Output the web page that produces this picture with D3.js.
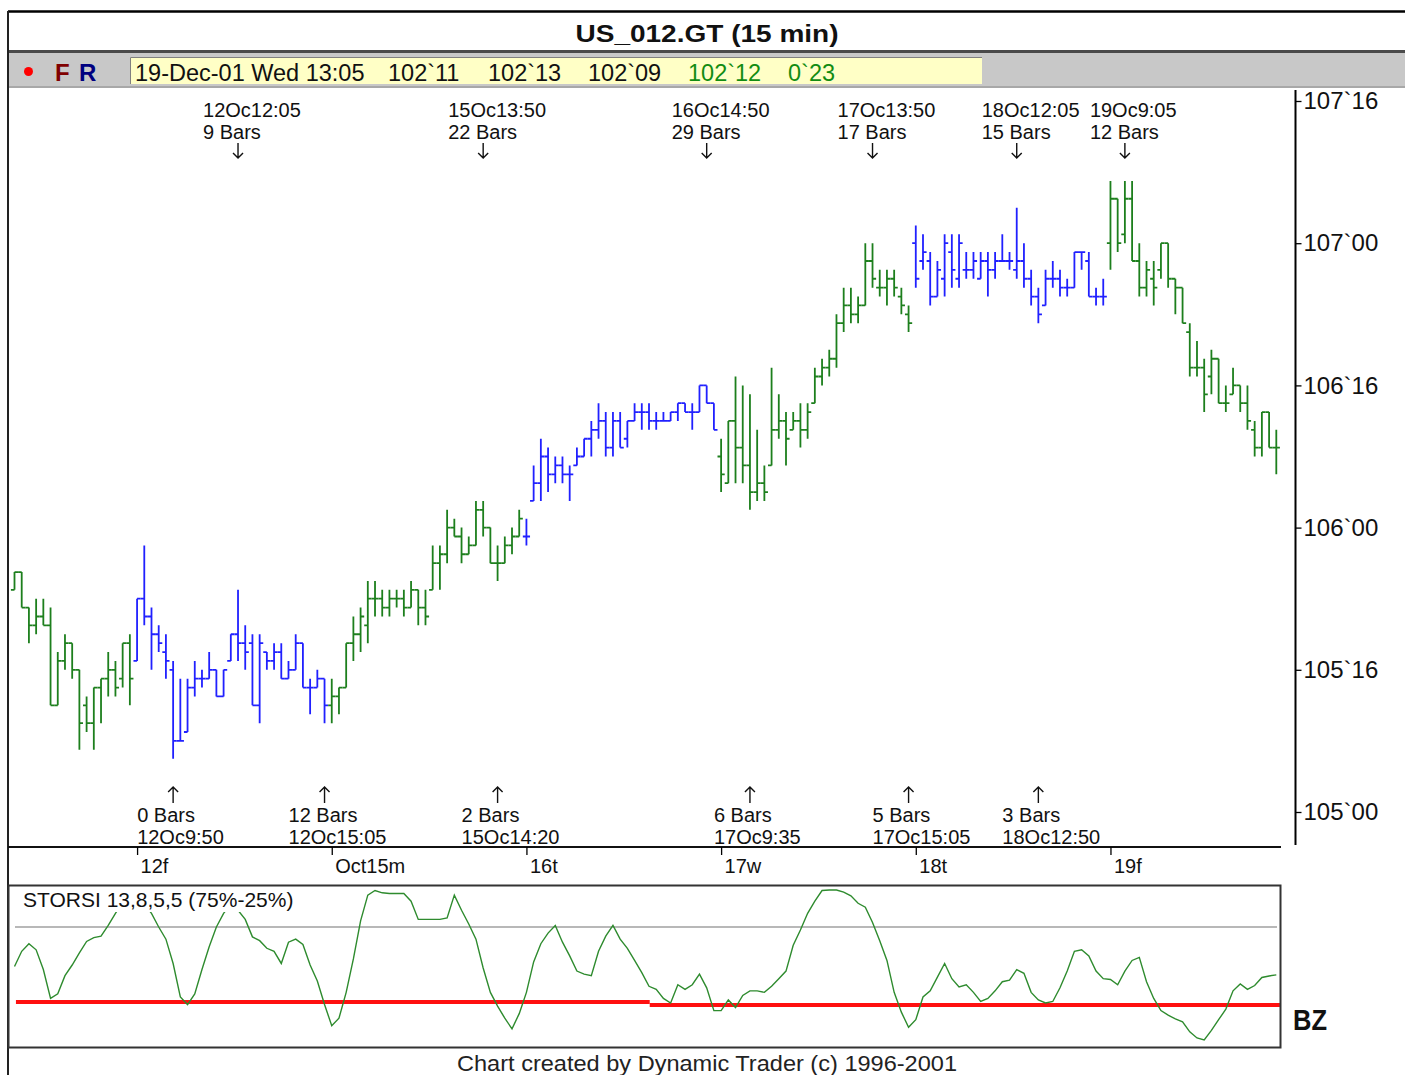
<!DOCTYPE html>
<html><head><meta charset="utf-8">
<script src="https://cdn.jsdelivr.net/npm/d3@7"></script>
<style>
html,body{margin:0;padding:0;background:#fff;}
svg{display:block;}
text{font-family:"Liberation Sans",Arial,sans-serif;}
</style></head><body>
<svg id="c" width="1405" height="1075"></svg>
<script>
// ---------- DATA (prices in 32nds above 105`00) ----------
const TICK_BASE = 105;
const barOpen = [
 25,27,23,21,22,21,12,17,19,16,12,10,14,15,16,15,19,
 17,24,22,20,18,16,8,9,14,15,15,16,13,17,20,19,19,12,18,17,18,15,16,19,14,14,15,
 12,13,14,19,20,21,24,24,23,24,24,23,25,23,25,28,29,32,31,29,30,34,32,28,28,30,31,
 31,35,37,40,38,39,38,39,40,42,43,44,41,44,42,44,45,45,44,44,44,45,46,45,45,48,46,
 40,37,44,41,39,36,37,39,43,44,43,44,43,46,49,50,51,55,57,56,57,62,59,59,60,58,56,
 64,62,62,58,60,63,60,61,61,60,62,61,62,62,61,62,60,58,57,60,60,59,59,63,62,58,58,
 64,69,65,69,62,59,60,61,64,60,59,54,50,50,49,51,46,47,48,46,43,41,45,41];
const barHigh = [
 27,27,23,24,24,23,18,20,19,16,13,14,15,18,17,19,20,
 24,30,23,21,20,17,15,15,17,16,18,16,16,20,25,21,20,20,18,19,19,17,20,19,15,16,15,
 15,14,19,22,23,26,26,25,25,25,25,26,25,25,30,30,34,33,32,31,35,35,32,30,31,32,34,
 33,39,42,41,40,40,39,41,42,44,46,45,45,45,44,46,46,46,45,45,45,46,46,46,48,48,46,
 42,44,49,48,47,43,39,50,47,45,45,46,46,50,51,52,56,59,59,58,64,64,61,61,61,59,57,
 66,65,63,62,65,65,65,63,63,63,63,63,65,63,68,64,61,59,61,62,61,60,63,63,63,59,60,
 71,69,71,71,64,62,62,64,64,60,59,55,53,51,52,51,48,50,48,48,44,45,45,43];
const barLow = [
 25,23,19,20,21,12,12,16,15,7,9,7,10,13,13,14,12,
 17,21,16,18,15,6,8,9,13,14,15,13,13,17,17,16,12,10,16,16,15,15,16,14,11,14,10,
 10,11,14,17,18,19,22,22,22,23,22,23,21,21,25,25,28,31,28,29,30,31,28,26,28,29,31,
 30,35,35,36,37,37,35,39,40,40,42,40,40,41,41,44,43,43,43,44,44,44,45,43,45,46,43,
 36,37,37,37,34,35,35,39,42,39,43,41,42,46,48,49,50,54,55,55,57,59,58,57,58,56,54,
 59,61,57,58,58,59,59,60,60,60,58,60,62,61,60,59,57,55,57,59,58,58,59,61,58,57,57,
 61,63,64,62,58,58,57,60,59,56,55,49,49,45,47,46,45,47,45,43,40,40,41,38];
const barClose = [
 27,23,21,22,21,12,17,19,16,10,10,14,15,16,14,19,15,
 24,22,20,19,17,8,8,14,15,15,16,13,16,20,19,18,12,19,17,18,15,16,19,14,14,15,12,
 13,14,19,20,22,24,24,23,24,24,23,25,23,22,28,29,32,31,29,30,34,32,28,28,30,31,33,
 31,37,40,38,39,38,38,40,42,43,44,41,44,41,44,45,45,44,44,44,45,46,45,45,48,46,43,
 38,44,41,39,36,37,36,43,44,42,44,43,45,49,50,51,55,57,56,57,62,60,59,60,59,57,55,
 60,63,58,61,64,61,64,61,62,62,61,62,62,62,62,60,58,56,60,60,59,59,63,63,58,58,58,
 69,64,69,62,59,61,59,64,60,59,55,50,50,47,51,46,46,48,46,44,41,45,41,41];
const storsi = [
 49,59,64,60,47,28,31,43,50,58,65.5,68,69,76,84,91,95,
 95,90,84,75,67,51,29,24,31,47,62,75,84,90,86,80,68.5,66,61,59,51,65,67,63.5,50,39.5,24,
 10,15,32,54,79,96,99,97.5,97,97,97,92,80,80,80,80,81,96,86,77,67,48,32,23,15,8,18,
 32,52,64,71,76,65,56,46,44,43,59,69,76,67,61,53,45,36,34,28,25,37,34,37,44,35,20,
 20,27,22,30,33,33,32,36,41,46,63,73,84,92,99,99.3,99.3,98,95.5,90.6,88,78,66,53,32,19,9,
 14,29,33,42,51,41,35.5,37,32,26,28,33,39,40,47,44.5,32,27,25,26,35,46,59,60,56,46,41,
 40.5,37,46,53,55,39,28,20,17,14.5,12.6,6,2,0.7,7,14,21,33,37.5,34,36.5,41.8,42.8,43.5];
const sessionStarts = [0,17,44,71,98,125,152];          // Oct 11,12,15,16,17,18,19
const dayTickIndex  = [17,44,71,98,125,152];
const dayTickLabels = ["12f","Oct15m","16t","17w","18t","19f"];
const priceTicks    = [80,64,48,32,16,0];
const highMarks = [
 {i:31,time:"12Oc12:05",bars:"9 Bars"},{i:65,time:"15Oc13:50",bars:"22 Bars"},
 {i:96,time:"16Oc14:50",bars:"29 Bars"},{i:119,time:"17Oc13:50",bars:"17 Bars"},
 {i:139,time:"18Oc12:05",bars:"15 Bars"},{i:154,time:"19Oc9:05",bars:"12 Bars"}];
const lowMarks = [
 {i:22,time:"12Oc9:50",bars:"0 Bars"},{i:43,time:"12Oc15:05",bars:"12 Bars"},
 {i:67,time:"15Oc14:20",bars:"2 Bars"},{i:102,time:"17Oc9:35",bars:"6 Bars"},
 {i:124,time:"17Oc15:05",bars:"5 Bars"},{i:142,time:"18Oc12:50",bars:"3 Bars"}];
const bzLevels = [{from:0.2,to:88.1,value:25.7},{from:88.1,to:175.5,value:23.7}];
const obLevel = 75;
const infoTexts = ["19-Dec-01 Wed 13:05","102`11","102`13","102`09","102`12","0`23"];

// ---------- DRAW ----------
const svg = d3.select("#c");
const GREEN = "#1d7f1d", BLUE = "#2020ff";
const x = d3.scaleLinear().domain([0,175]).range([14.5,1276.3]);
const y = d3.scaleLinear().domain([0,80]).range([812,101]);
const yi = d3.scaleLinear().domain([0,100]).range([1041,889]);
const fmtPrice = n => `${TICK_BASE + Math.floor(n/32)}\`${String(n%32).padStart(2,"0")}`;

svg.append("rect").attr("width",1405).attr("height",1075).attr("fill","#fff");

// header
svg.append("text").attr("x",707).attr("y",42).attr("text-anchor","middle")
  .attr("font-size",24).attr("font-weight","bold").attr("fill","#111")
  .attr("textLength",263).attr("lengthAdjust","spacingAndGlyphs").text("US_012.GT (15 min)");
svg.append("rect").attr("x",8).attr("y",50).attr("width",1397).attr("height",3).attr("fill","#4a4a4a");
svg.append("rect").attr("x",9).attr("y",53).attr("width",1396).attr("height",33).attr("fill","#c8c8c8");
svg.append("rect").attr("x",9).attr("y",86).attr("width",1396).attr("height",2).attr("fill","#a8a8a8");
svg.append("rect").attr("x",130).attr("y",57).attr("width",852).attr("height",27).attr("fill","#ffffc6");
svg.append("path").attr("d","M130.5,84 V57.5 H982").attr("stroke","#808080").attr("fill","none");
svg.append("circle").attr("cx",28.5).attr("cy",71.5).attr("r",4.5).attr("fill","#ff0000");
svg.append("text").attr("x",55).attr("y",81).attr("font-size",24).attr("font-weight","bold").attr("fill","#800000").text("F");
svg.append("text").attr("x",79).attr("y",81).attr("font-size",24).attr("font-weight","bold").attr("fill","#000080").text("R");
const infoX = [135,388,488,588,688,788];
svg.selectAll("text.info").data(infoTexts).join("text").attr("class","info")
  .attr("x",(d,k)=>infoX[k]).attr("y",81).attr("font-size",23.5)
  .attr("fill",(d,k)=>k>=4?"#128c12":"#111").text(d=>d);

// frame
svg.append("line").attr("x1",8).attr("x2",1405).attr("y1",11.5).attr("y2",11.5).attr("stroke","#000").attr("stroke-width",2.5);
svg.append("line").attr("x1",8).attr("x2",8).attr("y1",11).attr("y2",1075).attr("stroke","#222").attr("stroke-width",2);

// price axis
svg.append("line").attr("x1",1295.5).attr("x2",1295.5).attr("y1",90).attr("y2",845).attr("stroke","#000").attr("stroke-width",2);
const ya = svg.append("g").attr("transform","translate(1295.5,0)")
  .call(d3.axisRight(y).tickValues(priceTicks).tickFormat(fmtPrice).tickSize(6).tickPadding(2));
ya.select(".domain").remove();
ya.selectAll("line").attr("stroke","#000").attr("stroke-width",1.3);
ya.selectAll("text").attr("font-size",24).attr("fill","#111").attr("font-family","Liberation Sans, Arial, sans-serif");

// time axis
svg.append("line").attr("x1",8).attr("x2",1281).attr("y1",847).attr("y2",847).attr("stroke","#111").attr("stroke-width",2);
const xa = svg.append("g").attr("transform","translate(0,847)")
  .call(d3.axisBottom(x).tickValues(dayTickIndex).tickFormat((d,k)=>dayTickLabels[k]).tickSize(8));
xa.select(".domain").remove();
xa.selectAll("line").attr("stroke","#000").attr("stroke-width",1.3);
xa.selectAll("text").attr("text-anchor","start").attr("x",3).attr("y",12).attr("dy","0.71em")
  .attr("font-size",20).attr("fill","#111").attr("font-family","Liberation Sans, Arial, sans-serif");

// OHLC bars
const bars = d3.range(barOpen.length).map(i => ({i,o:barOpen[i],h:barHigh[i],l:barLow[i],c:barClose[i],
  s: sessionStarts.filter(s0 => s0 <= i).length - 1}));
svg.append("g").selectAll("path").data(bars).join("path")
  .attr("d", d => { const X = x(d.i);
    return `M${X},${y(d.h)}V${y(d.l)}M${X-3.6},${y(d.o)}H${X}M${X},${y(d.c)}H${X+3.6}`; })
  .attr("fill","none").attr("stroke", d => d.s % 2 === 0 ? GREEN : BLUE).attr("stroke-width",1.8);

// swing annotations
const ann = svg.append("g").attr("font-size",20).attr("fill","#111");
highMarks.forEach(m => { const X = x(m.i);
  ann.append("text").attr("x",X-35).attr("y",117).text(m.time);
  ann.append("text").attr("x",X-35).attr("y",139).text(m.bars);
  ann.append("path").attr("d",`M${X},143V158M${X-5},153L${X},158L${X+5},153`).attr("stroke","#111").attr("stroke-width",1.4).attr("fill","none");
});
lowMarks.forEach(m => { const X = x(m.i);
  ann.append("text").attr("x",X-36).attr("y",822).text(m.bars);
  ann.append("text").attr("x",X-36).attr("y",844).text(m.time);
  ann.append("path").attr("d",`M${X},803V787M${X-5},792L${X},787L${X+5},792`).attr("stroke","#111").attr("stroke-width",1.4).attr("fill","none");
});

// indicator panel
svg.append("line").attr("x1",15).attr("x2",1277).attr("y1",yi(obLevel)).attr("y2",yi(obLevel)).attr("stroke","#a0a0a0").attr("stroke-width",1.3);
svg.append("g").selectAll("line").data(bzLevels).join("line")
  .attr("x1",d=>x(d.from)).attr("x2",d=>x(d.to)).attr("y1",d=>yi(d.value)).attr("y2",d=>yi(d.value))
  .attr("stroke","#ff1010").attr("stroke-width",4);
svg.append("path").datum(storsi)
  .attr("d", d3.line().x((d,i)=>x(i)).y(d=>yi(d)))
  .attr("fill","none").attr("stroke","#2e8b2e").attr("stroke-width",1.4);
svg.append("rect").attr("x",18).attr("y",887).attr("width",284).attr("height",25).attr("fill","#fff");
svg.append("text").attr("x",23).attr("y",907).attr("font-size",21).attr("fill","#111").text("STORSI 13,8,5,5 (75%-25%)");
svg.append("rect").attr("x",8.5).attr("y",885.5).attr("width",1272).attr("height",162).attr("fill","none").attr("stroke","#333").attr("stroke-width",2);
svg.append("text").attr("x",1293).attr("y",1030).attr("font-size",30).attr("font-weight","bold").attr("fill","#111")
  .attr("textLength",34).attr("lengthAdjust","spacingAndGlyphs").text("BZ");

// footer
svg.append("text").attr("x",707).attr("y",1071).attr("text-anchor","middle").attr("font-size",22).attr("fill","#222")
  .attr("textLength",500).attr("lengthAdjust","spacingAndGlyphs").text("Chart created by Dynamic Trader (c) 1996-2001");
</script></body></html>
